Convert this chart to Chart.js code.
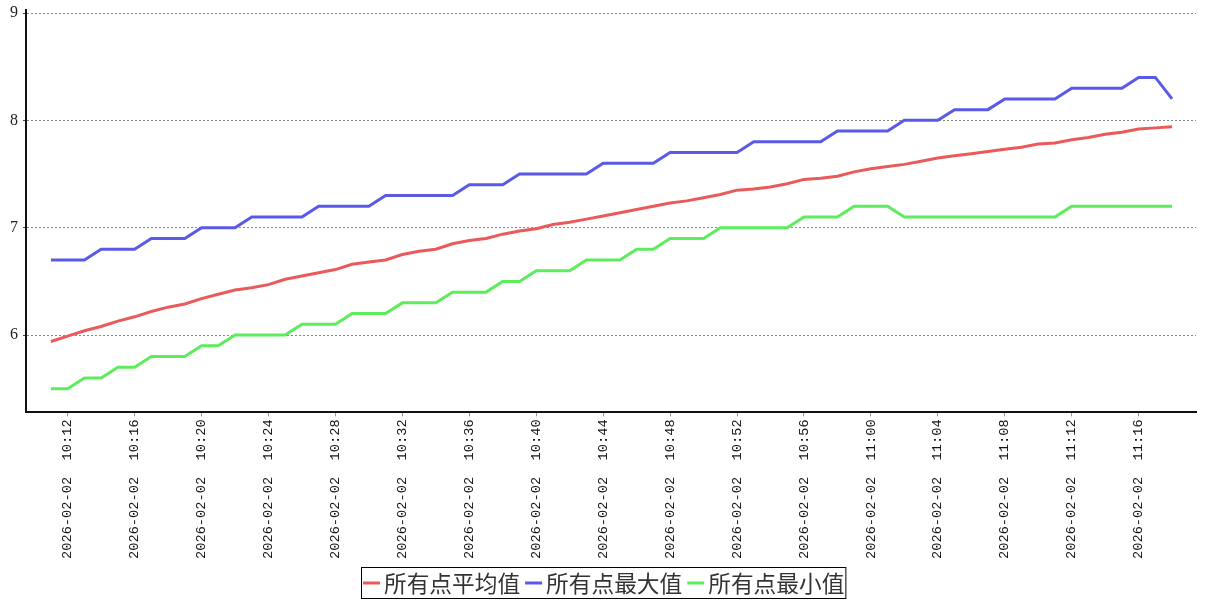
<!DOCTYPE html>
<html>
<head>
<meta charset="utf-8">
<script src="https://cdn.jsdelivr.net/npm/chart.js@4.4.1/dist/chart.umd.min.js"></script>
<style>
  html, body { margin: 0; padding: 0; background: #fff; }
  #wrap { width: 1207px; height: 600px; }
</style>
</head>
<body>
<div id="wrap"><canvas id="chart"></canvas></div>
<script>
const day = '2026-02-02';
const times = [
  '10:11', '10:12', '10:13', '10:14', '10:15', '10:16', '10:17', '10:18', '10:19', '10:20',
  '10:21', '10:22', '10:23', '10:24', '10:25', '10:26', '10:27', '10:28', '10:29', '10:30',
  '10:31', '10:32', '10:33', '10:34', '10:35', '10:36', '10:37', '10:38', '10:39', '10:40',
  '10:41', '10:42', '10:43', '10:44', '10:45', '10:46', '10:47', '10:48', '10:49', '10:50',
  '10:51', '10:52', '10:53', '10:54', '10:55', '10:56', '10:57', '10:58', '10:59', '11:00',
  '11:01', '11:02', '11:03', '11:04', '11:05', '11:06', '11:07', '11:08', '11:09', '11:10',
  '11:11', '11:12', '11:13', '11:14', '11:15', '11:16', '11:17', '11:18'
];
const avgValues = [
  5.94, 5.99, 6.04, 6.08, 6.13, 6.17, 6.22, 6.26, 6.29, 6.34,
  6.38, 6.42, 6.44, 6.47, 6.52, 6.55, 6.58, 6.61, 6.66, 6.68,
  6.70, 6.75, 6.78, 6.80, 6.85, 6.88, 6.90, 6.94, 6.97, 6.99,
  7.03, 7.05, 7.08, 7.11, 7.14, 7.17, 7.20, 7.23, 7.25, 7.28,
  7.31, 7.35, 7.36, 7.38, 7.41, 7.45, 7.46, 7.48, 7.52, 7.55,
  7.57, 7.59, 7.62, 7.65, 7.67, 7.69, 7.71, 7.73, 7.75, 7.78,
  7.79, 7.82, 7.84, 7.87, 7.89, 7.92, 7.93, 7.94
];
const maxValues = [
  6.7, 6.7, 6.7, 6.8, 6.8, 6.8, 6.9, 6.9, 6.9, 7.0,
  7.0, 7.0, 7.1, 7.1, 7.1, 7.1, 7.2, 7.2, 7.2, 7.2,
  7.3, 7.3, 7.3, 7.3, 7.3, 7.4, 7.4, 7.4, 7.5, 7.5,
  7.5, 7.5, 7.5, 7.6, 7.6, 7.6, 7.6, 7.7, 7.7, 7.7,
  7.7, 7.7, 7.8, 7.8, 7.8, 7.8, 7.8, 7.9, 7.9, 7.9,
  7.9, 8.0, 8.0, 8.0, 8.1, 8.1, 8.1, 8.2, 8.2, 8.2,
  8.2, 8.3, 8.3, 8.3, 8.3, 8.4, 8.4, 8.2
];
const minValues = [
  5.5, 5.5, 5.6, 5.6, 5.7, 5.7, 5.8, 5.8, 5.8, 5.9,
  5.9, 6.0, 6.0, 6.0, 6.0, 6.1, 6.1, 6.1, 6.2, 6.2,
  6.2, 6.3, 6.3, 6.3, 6.4, 6.4, 6.4, 6.5, 6.5, 6.6,
  6.6, 6.6, 6.7, 6.7, 6.7, 6.8, 6.8, 6.9, 6.9, 6.9,
  7.0, 7.0, 7.0, 7.0, 7.0, 7.1, 7.1, 7.1, 7.2, 7.2,
  7.2, 7.1, 7.1, 7.1, 7.1, 7.1, 7.1, 7.1, 7.1, 7.1,
  7.1, 7.2, 7.2, 7.2, 7.2, 7.2, 7.2, 7.2
];
const seriesNames = ['所有点平均值', '所有点最大值', '所有点最小值'];
const seriesColors = ['#ea5a5a', '#5a5ae8', '#5cec5c'];
const yTickValues = [6, 7, 8, 9];

const toPoints = vals => vals.map((v, i) => ({ x: i, y: v }));

// legend drawn as a framed row under the chart
const boxLegend = {
  id: 'boxLegend',
  afterDraw(chart) {
    const ctx = chart.ctx;
    ctx.save();
    ctx.font = '22.7px "Noto Sans CJK SC"';
    const items = chart.data.datasets.map(ds => ({
      text: ds.label, color: ds.borderColor, w: ctx.measureText(ds.label).width
    }));
    const total = 2 + items.reduce((s, it) => s + 21 + it.w, 0) + 5 * (items.length - 1) + 1;
    const left = Math.round((chart.width - total) / 2) + 0.5;
    const top = chart.height - 33 + 0.5;
    ctx.strokeStyle = '#000';
    ctx.lineWidth = 1;
    ctx.strokeRect(left, top, total, 31);
    let x = left + 1.5;
    const cy = top + 15.5;
    ctx.textBaseline = 'middle';
    items.forEach(it => {
      ctx.fillStyle = it.color;
      ctx.fillRect(x, cy - 1.5, 17, 3);
      x += 21;
      ctx.fillStyle = '#333';
      ctx.fillText(it.text, x, cy);
      x += it.w + 5;
    });
    ctx.restore();
  }
};

new Chart(document.getElementById('chart'), {
  type: 'line',
  data: {
    datasets: [avgValues, maxValues, minValues].map((vals, k) => ({
      label: seriesNames[k],
      data: toPoints(vals),
      borderColor: seriesColors[k],
      backgroundColor: seriesColors[k],
      borderWidth: 3,
      pointRadius: 0,
      tension: 0,
      fill: false
    }))
  },
  options: {
    responsive: true,
    maintainAspectRatio: false,
    animation: false,
    layout: { padding: { top: 10, right: 11, bottom: 38, left: 0 } },
    plugins: { legend: { display: false }, tooltip: { enabled: false } },
    scales: {
      x: {
        type: 'linear',
        min: -1.49,
        max: 68.43,
        afterBuildTicks: s => {
          s.ticks = times.map((t, i) => ({ value: i })).filter(t => t.value % 4 === 1);
        },
        ticks: {
          autoSkip: false,
          minRotation: 90,
          maxRotation: 90,
          padding: 3,
          color: '#111',
          font: { family: '"Liberation Mono", monospace', size: 13.7 },
          callback: v => day + '  ' + times[v]
        },
        grid: { drawOnChartArea: false, drawTicks: true, tickLength: 4, tickColor: '#999' },
        border: { display: true, color: '#111', width: 2 }
      },
      y: {
        min: 5.28,
        max: 9.028,
        afterFit: s => { s.width = 26; s.paddingTop = 0; s.paddingBottom = 0; },
        afterBuildTicks: s => { s.ticks = yTickValues.map(v => ({ value: v })); },
        ticks: {
          padding: 5,
          color: '#222',
          font: { family: '"Liberation Serif", serif', size: 16 }
        },
        grid: { color: '#888', lineWidth: 1, tickLength: 3, tickColor: '#444', tickBorderDash: [] },
        border: { display: true, color: '#111', width: 2, dash: [2, 2] }
      }
    }
  },
  plugins: [boxLegend]
});
</script>
</body>
</html>
